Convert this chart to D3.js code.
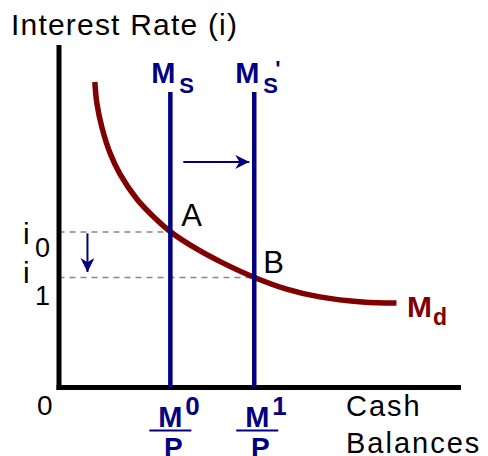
<!DOCTYPE html>
<html>
<head>
<meta charset="utf-8">
<script src="https://cdn.jsdelivr.net/npm/d3@7"></script>
<style>
  html, body { margin: 0; padding: 0; background: #fff; }
  svg { display: block; font-family: "Liberation Sans", Arial, sans-serif; }
</style>
</head>
<body>
<svg id="chart" width="488" height="456"></svg>
<script>
// ---------- DATA ----------
const axisTitles = ["Interest Rate (i)", "Cash", "Balances"];
const originLabel = "0";
// money supply levels (real balances)
const supplyLevels = [28, 49];
const supplyTop = 86.8;
const supplyLabels = [{main: "M", sub: "S", prime: ""}, {main: "M", sub: "S", prime: "'"}];
const xTickLabels = [{main: "M", sup: "0", den: "P"}, {main: "M", sup: "1", den: "P"}];
// interest rates
const rateLevels = [45.6, 32.2];
const yTickLabels = [{main: "i", sub: "0"}, {main: "i", sub: "1"}];
const pointLabels = ["A", "B"];
// money demand curve
const demandX = [9.1, 9.6, 10.9, 12.9, 15.4, 19.6, 23.6, 28.1, 34.6, 41.1, 48.9, 57.1, 65.4, 76.1, 84.6];
const demandY = [89.7, 83.5, 76.2, 68.8, 62.6, 55.3, 50.3, 45.6, 40.6, 36.5, 32.3, 28.8, 26.5, 25.0, 24.7];
const demandLabel = {main: "M", sub: "d"};
// shift arrows
const supplyShiftArrow = {x1: 31.25, x2: 47.75, y: 66.2};
const rateShiftArrow = {x: 7.25, y1: 45.2, y2: 33.8};

// ---------- STYLE ----------
const navy = "#000080", maroon = "#800000";
const svg = d3.select("#chart");
const x = d3.scaleLinear().domain([0, 100]).range([58.5, 458]);
const y = d3.scaleLinear().domain([0, 100]).range([387, 47]);

const defs = svg.append("defs");
defs.append("marker").attr("id", "arrow").attr("viewBox", "0 0 10 10")
  .attr("refX", 10).attr("refY", 5).attr("markerWidth", 7).attr("markerHeight", 7)
  .attr("markerUnits", "strokeWidth").attr("orient", "auto")
  .append("path").attr("d", "M0,0 L10,5 L0,10 L3,5 Z").attr("fill", navy);

// dashed guides
svg.append("g").selectAll("line").data(rateLevels).join("line")
  .attr("x1", x(0)).attr("x2", (d, i) => x(supplyLevels[i]))
  .attr("y1", d => y(d)).attr("y2", d => y(d))
  .attr("stroke", "#888").attr("stroke-width", 1.5).attr("stroke-dasharray", "6,5");

// axes
svg.append("g").attr("transform", `translate(0,${y(0)})`)
  .call(d3.axisBottom(x).tickValues([]).tickSizeOuter(0));
svg.append("g").attr("transform", `translate(${x(0)},0)`)
  .call(d3.axisLeft(y).tickValues([]).tickSizeOuter(0));
svg.selectAll(".domain").attr("stroke", "#000").attr("stroke-width", 5).attr("stroke-linecap", "square");

// demand curve
const line = d3.line().x(d => x(d[0])).y(d => y(d[1])).curve(d3.curveCatmullRom.alpha(0.5));
svg.append("path").datum(d3.zip(demandX, demandY)).attr("d", line)
  .attr("fill", "none").attr("stroke", maroon).attr("stroke-width", 5.5);

// supply lines
svg.append("g").selectAll("line").data(supplyLevels).join("line")
  .attr("x1", d => x(d)).attr("x2", d => x(d))
  .attr("y1", y(0)).attr("y2", y(supplyTop))
  .attr("stroke", navy).attr("stroke-width", 4.5);

// arrows
svg.append("line").attr("x1", x(supplyShiftArrow.x1)).attr("x2", x(supplyShiftArrow.x2))
  .attr("y1", y(supplyShiftArrow.y)).attr("y2", y(supplyShiftArrow.y))
  .attr("stroke", navy).attr("stroke-width", 2).attr("marker-end", "url(#arrow)");
svg.append("line").attr("x1", x(rateShiftArrow.x)).attr("x2", x(rateShiftArrow.x))
  .attr("y1", y(rateShiftArrow.y1)).attr("y2", y(rateShiftArrow.y2))
  .attr("stroke", navy).attr("stroke-width", 2).attr("marker-end", "url(#arrow)");

// titles
svg.append("text").attr("x", 11).attr("y", 35).attr("font-size", 30).attr("letter-spacing", 1.2)
  .text(axisTitles[0]);
svg.append("text").attr("x", 346).attr("y", 416).attr("font-size", 29).attr("letter-spacing", 2)
  .text(axisTitles[1]);
svg.append("text").attr("x", 346).attr("y", 453).attr("font-size", 29).attr("letter-spacing", 2)
  .text(axisTitles[2]);
svg.append("text").attr("x", 37).attr("y", 415).attr("font-size", 28).text(originLabel);

// point labels
const ptOff = [{dx: 11, dy: -6}, {dx: 9, dy: -5}];
svg.selectAll(".pt").data(pointLabels).join("text").attr("class", "pt")
  .attr("x", (d, i) => x(supplyLevels[i]) + ptOff[i].dx)
  .attr("y", (d, i) => y(rateLevels[i]) + ptOff[i].dy)
  .attr("font-size", 31).text(d => d);

// y tick labels (i0, i1)
const yLblOff = [{mainDy: 12, subDy: 25}, {mainDy: 5, subDy: 27}];
yTickLabels.forEach((d, i) => {
  const g = svg.append("g");
  g.append("text").attr("x", 23).attr("y", y(rateLevels[i]) + yLblOff[i].mainDy)
    .attr("font-size", 30).text(d.main);
  g.append("text").attr("x", 35).attr("y", y(rateLevels[i]) + yLblOff[i].subDy)
    .attr("font-size", 27).text(d.sub);
});

// x tick labels (M0/P, M1/P)
xTickLabels.forEach((d, i) => {
  const cx = x(supplyLevels[i]) + (i === 0 ? 0 : 3);
  const g = svg.append("g").attr("fill", navy).attr("font-weight", "bold");
  g.append("text").attr("x", cx - 12).attr("y", 427).attr("font-size", 29).text(d.main);
  g.append("text").attr("x", cx + 15).attr("y", 415).attr("font-size", 26).text(d.sup);
  g.append("line").attr("x1", cx - 21).attr("x2", cx + 21).attr("y1", 430.5).attr("y2", 430.5)
    .attr("stroke", navy).attr("stroke-width", 2);
  g.append("text").attr("x", cx + 3).attr("y", 457).attr("text-anchor", "middle")
    .attr("font-size", 28).text(d.den);
});

// supply labels (Ms, Ms')
supplyLabels.forEach((d, i) => {
  const lx = x(supplyLevels[i]);
  const g = svg.append("g").attr("fill", navy).attr("font-weight", "bold");
  g.append("text").attr("x", lx - 19).attr("y", 83).attr("font-size", 29).text(d.main);
  g.append("text").attr("x", lx + 9).attr("y", 93).attr("font-size", 22).text(d.sub);
  if (d.prime) g.append("text").attr("x", lx + 21).attr("y", 76).attr("font-size", 22).text(d.prime);
});

// demand label
const md = svg.append("g").attr("fill", maroon).attr("font-weight", "bold");
md.append("text").attr("x", 407).attr("y", 317).attr("font-size", 30).text(demandLabel.main);
md.append("text").attr("x", 433).attr("y", 325).attr("font-size", 23).text(demandLabel.sub);
</script>
</body>
</html>
